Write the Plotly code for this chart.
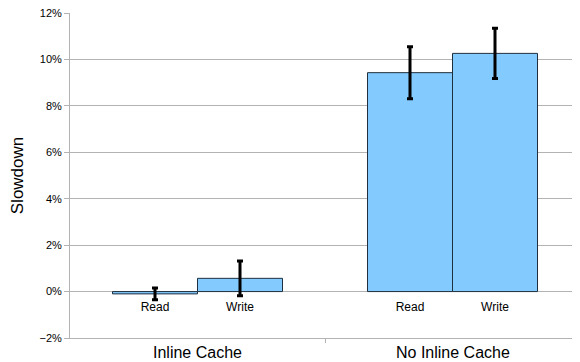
import numpy as np
import plotly.graph_objects as go

groups = ["Inline Cache", "No Inline Cache"]
series = ["Read", "Write"]
read_vals = [-0.001, 0.0943]
read_err = [0.0025, 0.0112]
write_vals = [0.0057, 0.1026]
write_err = [0.0075, 0.0108]
y_ticks = [-0.02, 0.0, 0.02, 0.04, 0.06, 0.08, 0.10, 0.12]

FONT = "Liberation Sans, Arial, sans-serif"
BAR_FILL = "#83caff"
BAR_LINE = "#1f2f3d"
GRID = "#b3b3b3"

spacing = 2.0
bargap = 1 / 3
centers = np.arange(len(groups)) * spacing + spacing / 2
half = (1 - bargap) * spacing / 4
x_range = [0, len(groups) * spacing]
y_range = [y_ticks[0], y_ticks[-1]]

fig = go.Figure()
for name, vals, errs in [("Read", read_vals, read_err), ("Write", write_vals, write_err)]:
    fig.add_trace(go.Bar(
        x=centers, y=vals, name=name,
        marker=dict(color=BAR_FILL, line=dict(color=BAR_LINE, width=1)),
        error_y=dict(type="data", array=errs, visible=True, color="black",
                     thickness=3, width=3),
        showlegend=False,
    ))

# divider tick axis (bottom)
fig.add_trace(go.Scatter(x=[x_range[0]], y=[y_range[0]], xaxis="x2", mode="markers",
                         marker=dict(opacity=0), showlegend=False, hoverinfo="skip"))

tick_pos = []
tick_txt = []
for c in centers:
    tick_pos += [c - half, c + half]
    tick_txt += series

zero_pos = (0 - y_range[0]) / (y_range[1] - y_range[0])

# page body has an 8px default margin: size the figure to fit the 580x362 window
fig.update_layout(
    width=572, height=354,
    margin=dict(l=62, r=0, t=5, b=24, autoexpand=False),
    paper_bgcolor="white", plot_bgcolor="white",
    barmode="group", bargap=bargap, bargroupgap=0,
    font=dict(family=FONT, color="#000000"),
    xaxis=dict(range=x_range, anchor="free", position=zero_pos,
               tickvals=tick_pos, ticktext=tick_txt, ticks="",
               ticklabelstandoff=6, automargin=False,
               showgrid=False, zeroline=False, showline=False,
               tickfont=dict(size=12, family=FONT, color="#000000")),
    xaxis2=dict(range=x_range, overlaying="x", anchor="y", side="bottom",
                tickvals=[centers[0] + spacing / 2], ticks="outside", ticklen=4,
                tickcolor=GRID, showticklabels=False, showgrid=False, automargin=False,
                zeroline=False, showline=True, linecolor=GRID, linewidth=1),
    yaxis=dict(range=[y_range[0], y_range[1] + 1e-6], tickvals=y_ticks, tickformat=".0%",
               automargin=False, ticklabeloverflow="allow",
               showgrid=True, gridcolor=GRID, gridwidth=1,
               zeroline=False, showline=True, linecolor=GRID, linewidth=1,
               ticks="outside", ticklen=5, tickcolor=GRID,
               tickfont=dict(size=11, family=FONT, color="#000000"),
               title=dict(text="Slowdown", font=dict(size=17, family=FONT, color="#000000"),
                          standoff=16)),
)

for c, g in zip(centers, groups):
    fig.add_annotation(x=c, xref="x", y=0, yref="paper", yanchor="top",
                       yshift=-5, borderpad=0, text=g, showarrow=False,
                       font=dict(size=16, family=FONT, color="#000000"))

fig.write_html("out.html")
